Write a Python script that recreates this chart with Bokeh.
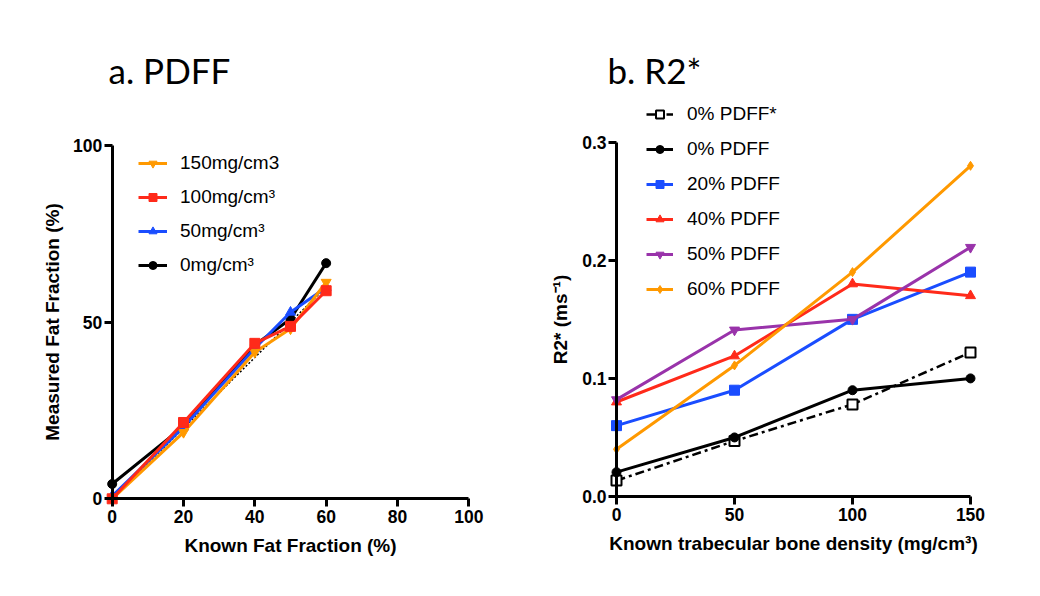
from bokeh.plotting import figure
from bokeh.models import (Range1d, LinearAxis, FixedTicker, PrintfTickFormatter,
                          Legend, LegendItem, Label)
from bokeh.layouts import row
from bokeh.embed import file_html
from bokeh.resources import INLINE

# ---------------- data: panel a (PDFF) ----------------
known_ff = [0, 20, 40, 50, 60]
ff_0mg = [4.2, 20.5, 43.5, 50.9, 66.7]
ff_50mg = [0.8, 20.3, 42.6, 52.8, 59.8]
ff_100mg = [0.0, 21.6, 44.0, 48.8, 58.9]
ff_150mg = [0.0, 18.8, 41.5, 48.1, 61.3]
identity_line = [0, 60]
ff_xticks = [0, 20, 40, 60, 80, 100]
ff_yticks = [0, 50, 100]

# ---------------- data: panel b (R2*) ----------------
density = [0, 50, 100, 150]
r2_0_star = [0.0135, 0.047, 0.078, 0.122]
r2_0 = [0.0206, 0.050, 0.090, 0.100]
r2_20 = [0.060, 0.090, 0.150, 0.190]
r2_40 = [0.080, 0.119, 0.180, 0.170]
r2_50 = [0.082, 0.141, 0.150, 0.211]
r2_60 = [0.040, 0.111, 0.190, 0.280]
r2_xticks = [0, 50, 100, 150]
r2_yticks = [0.0, 0.1, 0.2, 0.3]

ORANGE = "#FF9900"
RED = "#FF2A1A"
BLUE = "#1A4DFF"
PURPLE = "#9933AA"
BLACK = "#000000"

FONT = "Liberation Sans"
H = 590
W1 = 540
W2 = 500


def range_from_pixels(p0, v0, p1, v1, lo, hi):
    # linear map pixel<->value given two anchors; returns values at pixels lo and hi
    k = (v1 - v0) / (p1 - p0)
    return v0 + (lo - p0) * k, v0 + (hi - p0) * k


def style_axis(ax, ticks):
    ax.ticker = FixedTicker(ticks=ticks)
    ax.axis_line_width = 3
    ax.axis_line_color = "black"
    ax.major_tick_line_width = 3
    ax.major_tick_line_color = "black"
    ax.major_tick_out = 8
    ax.major_tick_in = 0
    ax.minor_tick_line_color = None
    ax.major_label_text_font = FONT
    ax.major_label_text_font_style = "bold"
    ax.major_label_text_font_size = "17.5px"
    ax.major_label_text_color = "black"
    ax.major_label_standoff = 3
    ax.axis_label_text_font = FONT
    ax.axis_label_text_font_style = "bold"
    ax.axis_label_text_font_size = "19px"
    ax.axis_label_text_color = "black"
    ax.axis_label_standoff = 9


def make_fig(width, xr, yr):
    p = figure(width=width, height=H, output_backend="svg", toolbar_location=None,
               x_range=Range1d(*xr), y_range=Range1d(*yr),
               x_axis_location=None, y_axis_location=None, title=None,
               min_border_left=0, min_border_right=0, min_border_top=0, min_border_bottom=0)
    p.outline_line_color = None
    p.xgrid.visible = False
    p.ygrid.visible = False
    p.background_fill_color = "white"
    p.border_fill_color = "white"
    return p


def make_legend(items, loc, glyph_w, standoff, spacing):
    lg = Legend(items=items, location=loc, orientation="vertical")
    lg.glyph_width = glyph_w
    lg.glyph_height = 20
    lg.label_height = 20
    lg.label_standoff = standoff
    lg.spacing = spacing
    lg.padding = 0
    lg.margin = 0
    lg.border_line_color = None
    lg.background_fill_alpha = 0
    lg.label_text_font = FONT
    lg.label_text_font_size = "19px"
    lg.label_text_color = "black"
    return lg


# ---------------- panel a ----------------
# canvas spans image x 0..540, y 0..590 ; anchors: x 0->111.7, 100->468.3 ; y 0->498.3, 100->145
xa = range_from_pixels(111.7, 0, 468.3, 100, 0, W1)
ya = range_from_pixels(498.3, 0, 145.0, 100, H, 0)
p1 = make_fig(W1, xa, ya)

ax1x = LinearAxis(fixed_location=0, bounds=(0, 100), axis_label="Known Fat Fraction (%)")
ax1y = LinearAxis(fixed_location=0, bounds=(0, 100), axis_label="Measured Fat Fraction (%)")
style_axis(ax1x, ff_xticks)
style_axis(ax1y, ff_yticks)
ax1y.major_label_standoff = 2
ax1y.axis_label_standoff = 7
p1.add_layout(ax1x, "below")
p1.add_layout(ax1y, "left")

p1.line(identity_line, identity_line, line_color="black", line_width=1.5, line_dash="2 2")

la0 = p1.line(known_ff, ff_0mg, line_color=BLACK, line_width=3)
sa0 = p1.scatter(known_ff, ff_0mg, marker="circle", size=9, color=BLACK)
la50 = p1.line(known_ff, ff_50mg, line_color=BLUE, line_width=3)
sa50 = p1.scatter(known_ff, ff_50mg, marker="triangle", size=10, color=BLUE)
la150 = p1.line(known_ff, ff_150mg, line_color=ORANGE, line_width=3)
sa150 = p1.scatter(known_ff, ff_150mg, marker="inverted_triangle", size=10, color=ORANGE)
la100 = p1.line(known_ff, ff_100mg, line_color=RED, line_width=3)
sa100 = p1.scatter(known_ff, ff_100mg, marker="square", size=10, color=RED)

# legend: left edge at image x 138, first row centre y 163, step ~33.4
leg1 = make_legend([
    LegendItem(label="150mg/cm3", renderers=[la150, sa150]),
    LegendItem(label="100mg/cm³", renderers=[la100, sa100]),
    LegendItem(label="50mg/cm³", renderers=[la50, sa50]),
    LegendItem(label="0mg/cm³", renderers=[la0, sa0]),
], (138, H - 276), 29, 13, 12)
p1.add_layout(leg1)

ta_x = (108 - 111.7) / 3.566
ta_y = (498.3 - 69) / 3.533
p1.add_layout(Label(x=ta_x, y=ta_y, text="a. PDFF", text_font="Lato",
                    text_font_size="35px", text_color="black", text_baseline="alphabetic"))

# ---------------- panel b ----------------
# canvas spans image x 540..1040, y 0..590 ; anchors: x 0->616, 150->970 ; y 0->496, 0.3->141.7
xb = range_from_pixels(616, 0, 970, 150, 540, 540 + W2)
yb = range_from_pixels(496, 0, 141.7, 0.3, H, 0)
p2 = make_fig(W2, xb, yb)

ax2x = LinearAxis(fixed_location=0, bounds=(0, 150),
                  axis_label="Known trabecular bone density (mg/cm³)")
ax2y = LinearAxis(fixed_location=0, bounds=(0, 0.3), axis_label="R2* (ms⁻¹)")
style_axis(ax2x, r2_xticks)
style_axis(ax2y, r2_yticks)
ax2y.formatter = PrintfTickFormatter(format="%.1f")
ax2y.major_label_standoff = 2
ax2y.axis_label_standoff = 8
p2.add_layout(ax2x, "below")
p2.add_layout(ax2y, "left")

lb0s = p2.line(density, r2_0_star, line_color=BLACK, line_width=2.5, line_dash="9 4 3 4")
sb0s = p2.scatter(density, r2_0_star, marker="square", size=10, fill_color="white",
                  line_color=BLACK, line_width=2)
lb0 = p2.line(density, r2_0, line_color=BLACK, line_width=3)
sb0 = p2.scatter(density, r2_0, marker="circle", size=9, color=BLACK)
lb20 = p2.line(density, r2_20, line_color=BLUE, line_width=3)
sb20 = p2.scatter(density, r2_20, marker="square", size=10, color=BLUE)
lb40 = p2.line(density, r2_40, line_color=RED, line_width=3)
sb40 = p2.scatter(density, r2_40, marker="triangle", size=10, color=RED)
lb50 = p2.line(density, r2_50, line_color=PURPLE, line_width=3)
sb50 = p2.scatter(density, r2_50, marker="inverted_triangle", size=10, color=PURPLE)
lb60 = p2.line(density, r2_60, line_color=ORANGE, line_width=3)
sb60 = p2.scatter(density, r2_60, marker="diamond", size=9, color=ORANGE)

# legend: left edge at image x 646, first row centre y 115, step ~34
leg2 = make_legend([
    LegendItem(label="0% PDFF*", renderers=[lb0s, sb0s]),
    LegendItem(label="0% PDFF", renderers=[lb0, sb0]),
    LegendItem(label="20% PDFF", renderers=[lb20, sb20]),
    LegendItem(label="40% PDFF", renderers=[lb40, sb40]),
    LegendItem(label="50% PDFF", renderers=[lb50, sb50]),
    LegendItem(label="60% PDFF", renderers=[lb60, sb60]),
], (646 - 540, H - 300), 27, 14, 13)
p2.add_layout(leg2)

tb_x = (607 - 616) / 2.36
tb_y = (496 - 69) / 1181.0
p2.add_layout(Label(x=tb_x, y=tb_y, text="b. R2*", text_font="Lato",
                    text_font_size="35px", text_color="black", text_baseline="alphabetic"))

layout = row(p1, p2)
open("out.html", "w").write(file_html(layout, INLINE))
